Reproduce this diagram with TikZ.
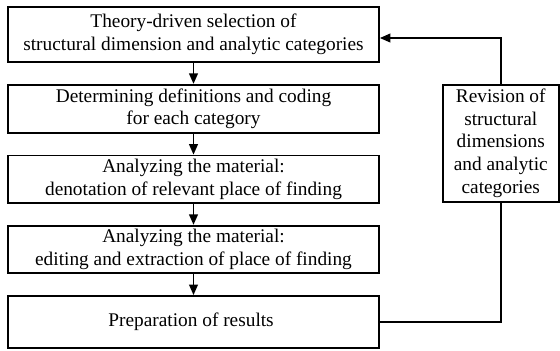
\documentclass[tikz,border=0pt]{standalone}
\usepackage{fontspec}
\setmainfont{Liberation Serif}
\usetikzlibrary{positioning, arrows.meta}

\begin{document}
\begin{tikzpicture}[
    node distance=0.42cm,
    stage/.style={rectangle, draw=black, line width=1pt, minimum width=7.42cm, align=center, font=\fontsize{11}{13}\selectfont, inner sep=2pt},
    revbox/.style={rectangle, draw=black, line width=1pt, minimum width=2.32cm, minimum height=2.34cm, align=center, font=\fontsize{11}{13}\selectfont, inner sep=2pt},
    arr/.style={-{Triangle[length=6pt, width=5pt]}, line width=1pt, draw=black}
]
    \useasboundingbox (0,0) rectangle (11.2,-7.02);

    \node[stage, minimum height=1.1cm] (select) at (3.87,-0.69) {
        Theory-driven selection of\\
        structural dimension and analytic categories
    };

    \node[stage, minimum height=0.96cm] (define) [below=of select] {
        Determining definitions and coding\\
        for each category
    };

    \node[stage, minimum height=0.92cm] (denote) [below=of define] {
        Analyzing the material:\\
        denotation of relevant place of finding
    };

    \node[stage, minimum height=0.94cm] (extract) [below=of denote] {
        Analyzing the material:\\
        editing and extraction of place of finding
    };

    \node[stage, minimum height=1.04cm] (results) [below=of extract] {
        Preparation of results
    };

    \node[revbox] (revise) [below right=0cm and 1.24cm of define.north east] {
        Revision of\\ structural\\ dimensions\\ and analytic\\ categories
    };

    \draw[arr] (select) -- (define);
    \draw[arr] (define) -- (denote);
    \draw[arr] (denote) -- (extract);
    \draw[arr] (extract) -- (results);
    \draw[line width=1pt] (results.east) -| (revise.south);
    \draw[arr] (revise.north) |- ([yshift=-2pt]select.east);
\end{tikzpicture}
\end{document}
